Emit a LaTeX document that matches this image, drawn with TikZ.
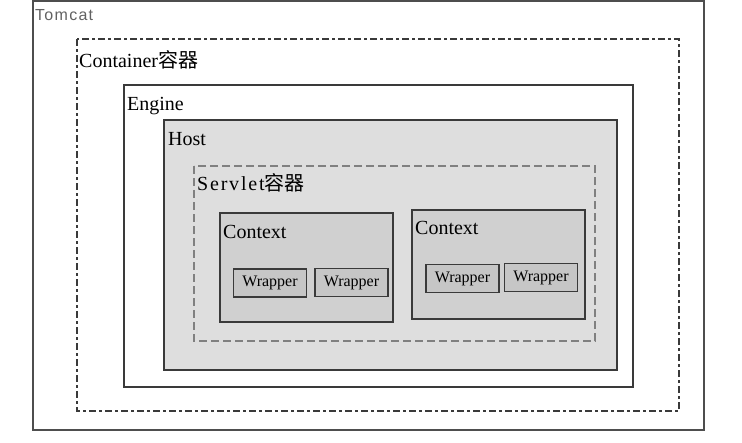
\documentclass[tikz,border=0pt]{standalone}
\usepackage{fontspec}
\setmainfont{Liberation Serif}
\newfontfamily\cjk{Noto Sans CJK SC}
\newfontfamily\tomcatfont[LetterSpace=8]{Liberation Sans}
\newfontfamily\servletfont[LetterSpace=9]{Liberation Serif}
\usepackage{tikz}
\usetikzlibrary{calc}
\definecolor{edge}{HTML}{3A3A3A}
\definecolor{hostgray}{HTML}{DEDEDE}
\definecolor{ctxgray}{HTML}{D0D0D0}
\definecolor{wrapgray}{HTML}{C6C6C6}
\definecolor{dashgray}{HTML}{808080}

\begin{document}
\begin{tikzpicture}[x=1pt,y=-1pt,
        box/.style={draw=edge, line width=1.1pt},
        lbl/.style={anchor=base west, inner sep=0pt, font=\fontsize{20}{22}\selectfont},
        wrap/.style={draw=edge, fill=wrapgray, line width=1.1pt, inner sep=0pt,
            minimum width=73pt, minimum height=28pt, font=\fontsize{16}{17}\selectfont}]
        \useasboundingbox (0,0) rectangle (742,442);
        % tomcat
        \draw[draw=edge!90, line width=1.2pt] (33,1) rectangle (704,430);
        \node[anchor=base west, inner sep=0pt, text=black!62, font=\tomcatfont\fontsize{16}{18}\selectfont] (tomcat) at (35,20) {Tomcat};
        % container
        \draw[draw=edge, line width=1.1pt, dash pattern=on 7pt off 3pt on 3pt off 3pt] (77,39) rectangle (679,411);
        \node[lbl] (container) at (79,67) {Container{\cjk 容器}};
        % engine
        \draw[box, fill=white] (124,85) rectangle (633,387);
        \node[lbl] (engine) at (127,110) {Engine};
        % host
        \draw[box, fill=hostgray] (164,120) rectangle (617,370);
        \node[lbl] (host) at (168,145) {Host};
        % servlet
        \draw[draw=dashgray, line width=1.6pt, dash pattern=on 8pt off 4pt] (194,166) rectangle (595,341);
        \node[lbl] (servlet) at (197,190) {\servletfont Servlet{\cjk 容器}};
        % context 1
        \draw[box, fill=ctxgray] (220,213) rectangle (393,322);
        \node[lbl] (ctxa) at (223,238) {Context};
        \node[wrap] (wrapaa) at (270,283) {Wrapper};
        \node[wrap] (wrapab) at (351.5,282.5) {Wrapper};
        % context 2
        \draw[box, fill=ctxgray] (412,210) rectangle (585,319);
        \node[lbl] (ctxb) at (415,234) {Context};
        \node[wrap] (wrapba) at (462.5,278.5) {Wrapper};
        \node[wrap] (wrapbb) at (541,277.5) {Wrapper};
    \end{tikzpicture}
\end{document}
